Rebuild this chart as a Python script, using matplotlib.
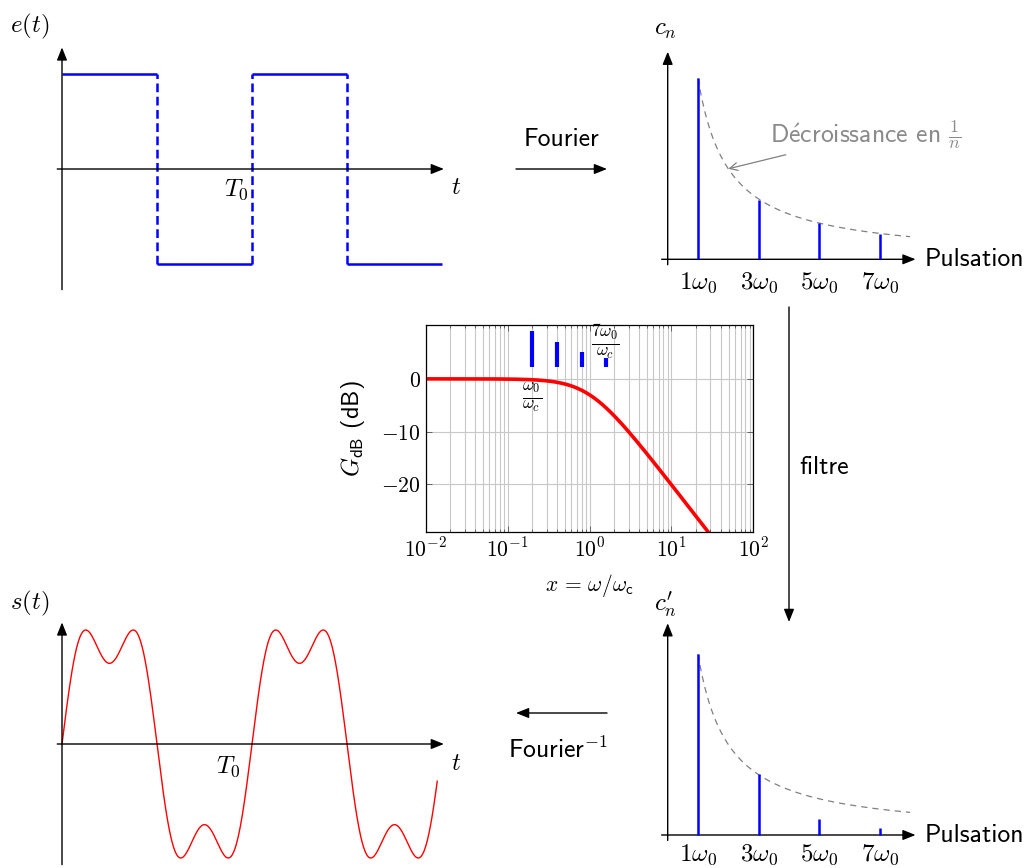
import numpy as np
import matplotlib
matplotlib.use("Agg")
import matplotlib.pyplot as plt

plt.rcParams["mathtext.fontset"] = "cm"

W, H = 1029, 868
SANS = ["cmss10", "DejaVu Sans"]

# square-wave input e(t)
sq_edges = [0, 1, 2, 3, 4]
sq_levels = [1, -1, 1, -1]

# spectra (harmonic index and amplitudes)
harmonics = [1, 3, 5, 7]
harm_labels = [r"$1\omega_0$", r"$3\omega_0$", r"$5\omega_0$", r"$7\omega_0$"]
cn_in = [1.0, 0.33, 0.20, 0.14]
cn_out = [1.0, 0.335, 0.087, 0.037]

# output s(t): harmonics kept after the filter
out_harm = [1, 3]
out_amp = [1.273, 0.424]
t_end = 3.95

# bode plot
bode_xticks = [1e-2, 1e-1, 1e0, 1e1, 1e2]
bode_xlabels = [r"$10^{-2}$", r"$10^{-1}$", r"$10^{0}$", r"$10^{1}$", r"$10^{2}$"]
bode_yticks = [0, -10, -20]
bode_ylabels = [r"$0$", r"$-10$", r"$-20$"]
cutoff = 1.0
bar_x = [0.2, 0.4, 0.8, 1.6]
bar_top = [9.1, 7.0, 5.1, 4.0]
bar_bottom = 2.2

fig = plt.figure(figsize=(W / 100, H / 100), dpi=100)

# overlay in pixel coords for the arrows between panels
ov = fig.add_axes([0, 0, 1, 1])
ov.set_xlim(0, W)
ov.set_ylim(H, 0)
ov.axis("off")


def panel(x0, y0, sx, sy, xlim, ylim):
    left, right = x0 + xlim[0] * sx, x0 + xlim[1] * sx
    top, bottom = y0 - ylim[1] * sy, y0 - ylim[0] * sy
    ax = fig.add_axes([left / W, 1 - bottom / H, (right - left) / W, (bottom - top) / H])
    ax.set_xlim(xlim)
    ax.set_ylim(ylim)
    ax.axis("off")
    return ax


def arrow(ax, p0, p1, color="black", lw=1.0, style="-|>,head_length=0.55,head_width=0.22"):
    ax.annotate("", xy=p1, xytext=p0,
                arrowprops=dict(arrowstyle=style, color=color, lw=lw,
                                shrinkA=0, shrinkB=0, mutation_scale=14))


def axes_cross(ax, xr, yr):
    arrow(ax, (xr[0], 0), (xr[1], 0))
    arrow(ax, (0, yr[0]), (0, yr[1]))


# --- e(t) ---
ax = panel(62, 169, 95, 95, (-0.3, 4.3), (-1.4, 1.4))
axes_cross(ax, (-0.05, 4.02), (-1.27, 1.28))
ax.hlines(sq_levels, sq_edges[:-1], sq_edges[1:], color="blue", lw=1.8)
ax.vlines(sq_edges[1:-1], -1, 1, color="blue", lw=1.8, linestyles=[(0, (3.5, 1.8))])
ax.text(-0.34, 1.5, r"$e(t)$", fontsize=18, ha="center", va="center")
ax.text(1.83, -0.22, r"$T_0$", fontsize=18, ha="center", va="center")
ax.text(4.15, -0.19, r"$t$", fontsize=18, ha="center", va="center")

# --- s(t) ---
ax = panel(62, 744, 95, 95, (-0.3, 4.3), (-1.4, 1.4))
axes_cross(ax, (-0.05, 4.02), (-1.27, 1.28))
t = np.linspace(0, t_end, 800)
s = sum(a * np.sin(n * np.pi * t) for n, a in zip(out_harm, out_amp))
ax.plot(t, s, color="red", lw=1.0)
ax.text(-0.34, 1.48, r"$s(t)$", fontsize=18, ha="center", va="center")
ax.text(1.75, -0.24, r"$T_0$", fontsize=18, ha="center", va="center")
ax.text(4.15, -0.2, r"$t$", fontsize=18, ha="center", va="center")


# --- spectra ---
def spectrum(y0, amps, label, ytop, lab_y, annotate=False):
    ax = panel(667.7, y0, 30.3, 181, (-0.5, 8.5), (-0.2, 1.3))
    axes_cross(ax, (-0.2, 8.18), (-0.03, ytop))
    n = np.linspace(1, 8, 200)
    ax.plot(n, 1 / n, color="gray", lw=0.9, ls=(0, (5, 4)), zorder=1)
    ax.vlines(harmonics, 0, amps, color="blue", lw=1.8, zorder=3)
    for h, lab in zip(harmonics, harm_labels):
        ax.text(h, lab_y, lab, fontsize=18, ha="center", va="center")
    ax.text(-0.09, 1.27, label, fontsize=18, ha="center", va="center")
    ax.text(8.49, 0.0, "Pulsation", fontsize=18.5, family=SANS, ha="left", va="center")
    if annotate:
        ax.annotate(r"D$\acute{\mathsf{e}}$croissance en $\frac{1}{n}$", xy=(2, 0.5),
                    xytext=(3.38, 0.686),
                    fontsize=18.5, family=SANS, color="#8a8a8a", ha="left", va="center",
                    arrowprops=dict(arrowstyle="->", color="gray", lw=0.9,
                                    shrinkA=2, shrinkB=0, mutation_scale=14))
    return ax


spectrum(259.3, cn_in, r"$c_n$", 1.147, -0.13, annotate=True)
spectrum(835, cn_out, r"$c_n^{\prime}$", 1.17, -0.11)

# --- bode ---
left, right, top, bottom = 425.7, 753.3, 325, 532
bx = fig.add_axes([left / W, 1 - bottom / H, (right - left) / W, (bottom - top) / H])
bx.set_xscale("log")
bx.set_xlim(1e-2, 1e2)
bx.set_ylim(-29, 10.2)
bx.grid(which="major", color="#c8c8c8", lw=0.8)
bx.grid(which="minor", axis="x", color="#c8c8c8", lw=0.8)
bx.set_axisbelow(True)
xf = np.logspace(-2, 2, 500)
bx.plot(xf, -20 * np.log10(np.sqrt(1 + (xf / cutoff) ** 2)), color="red", lw=2.6)
bx.vlines(bar_x, bar_bottom, bar_top, color="blue", lw=3)
bx.set_xticks(bode_xticks)
bx.set_xticklabels(bode_xlabels, fontsize=15.5)
bx.set_yticks(bode_yticks)
bx.set_yticklabels(bode_ylabels, fontsize=15.5)
bx.tick_params(which="both", direction="in", top=True, right=True, width=0.6, color="#555555")
bx.tick_params(which="major", length=4)
bx.tick_params(which="minor", length=2.5)
for sp in bx.spines.values():
    sp.set_linewidth(0.9)
bx.text(0.197, -3.66, r"$\frac{\omega_0}{\omega_c}$", fontsize=18, ha="center", va="center")
bx.text(1.58, 7.0, r"$\frac{7\omega_0}{\omega_c}$", fontsize=18, ha="center", va="center")
bx.set_xlabel(r"$x\, =\, \omega/\omega_{\mathsf{c}}$", fontsize=15.5, labelpad=8)
bx.set_ylabel(r"$G_{\mathsf{dB}}$ (dB)", fontsize=17.5, family=SANS, labelpad=10)

# --- arrows between panels ---
arrow(ov, (516, 169), (607, 169))
ov.text(561, 140, "Fourier", fontsize=18.5, family=SANS, ha="center", va="center")
arrow(ov, (607, 713), (516, 713))
ov.text(558, 750, "Fourier$^{-1}$", fontsize=18.5, family=SANS, ha="center", va="center")
arrow(ov, (789, 307), (789, 622))
ov.text(824, 467, "filtre", fontsize=18.5, family=SANS, ha="center", va="center")

fig.savefig("out.png", dpi=100)
